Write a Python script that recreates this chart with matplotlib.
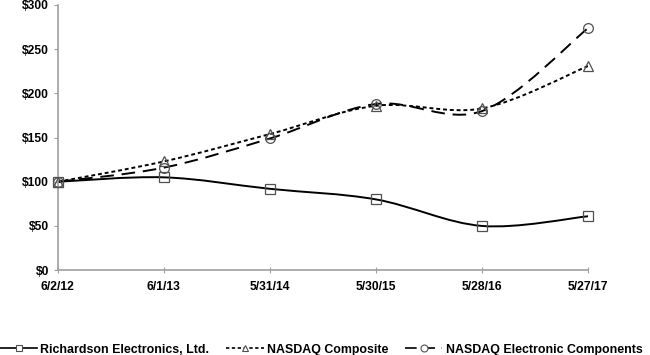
import matplotlib.pyplot as plt
import numpy as np
from matplotlib.path import Path
from matplotlib.patches import PathPatch
from matplotlib.lines import Line2D

plt.rcParams['font.family'] = ['Liberation Sans', 'DejaVu Sans']
plt.rcParams['font.weight'] = 'bold'

dates = ['6/2/12', '6/1/13', '5/31/14', '5/30/15', '5/28/16', '5/27/17']
richardson = [100, 105, 92, 80, 50, 61]
nasdaq_comp = [100, 123, 154, 186, 183, 231]
nasdaq_elec = [100, 116, 149, 188, 180, 274]
names = ['Richardson Electronics, Ltd.', 'NASDAQ Composite', 'NASDAQ Electronic Components']


def smooth_path(xs, ys):
    # excel-like smoothed line: catmull-rom segments as cubic beziers
    p = np.column_stack([xs, ys]).astype(float)
    ext = np.vstack([p[0], p, p[-1]])
    verts = [p[0]]
    codes = [Path.MOVETO]
    for i in range(len(p) - 1):
        p0, p1, p2, p3 = ext[i], ext[i + 1], ext[i + 2], ext[i + 3]
        c1 = p1 + (p2 - p0) / 6
        c2 = p2 - (p3 - p1) / 6
        verts += [c1, c2, p2]
        codes += [Path.CURVE4] * 3
    return Path(verts, codes)


fig = plt.figure(figsize=(6.5, 3.55), dpi=100)
ax = fig.add_axes([0.089, 0.239, 0.816, 0.747])

x = np.arange(len(dates))
styles = [
    dict(ls='-', marker='s'),
    dict(ls=(0, (2, 1.5)), marker='^'),
    dict(ls=(0, (7, 4)), marker='o'),
]
series = [richardson, nasdaq_comp, nasdaq_elec]
handles = []
for ys, st, name in zip(series, styles, names):
    patch = PathPatch(smooth_path(x, ys), fill=False, edgecolor='black',
                      lw=1.4, linestyle=st['ls'], transform=ax.transData, zorder=2)
    ax.add_patch(patch)
    ax.plot(x, ys, ls='none', marker=st['marker'], ms=7, mfc='none',
            mec='#505050', mew=0.9, zorder=3, clip_on=False)
    handles.append(Line2D([], [], color='black', lw=1.2, ls=st['ls'],
                          marker=st['marker'], ms=5, mfc='white', mec='#505050', mew=0.8))

ax.set_xlim(0, 5)
ax.set_ylim(0, 300)
ax.set_xticks(x)
ax.set_xticklabels(dates)
ax.set_yticks(range(0, 301, 50))
ax.set_yticklabels(['$%d' % v for v in range(0, 301, 50)])
for s in ['top', 'right']:
    ax.spines[s].set_visible(False)
for s in ['left', 'bottom']:
    ax.spines[s].set_color('#a0a0a0')
    ax.spines[s].set_linewidth(1.2)
ax.tick_params(axis='both', colors='#a0a0a0', labelcolor='black', labelsize=8.7, length=3)
ax.tick_params(axis='x', direction='inout', length=5, pad=5)

fig.legend(handles, names, loc='lower left', bbox_to_anchor=(0.0, -0.002), ncol=3,
           frameon=False, fontsize=8.9, handlelength=3.0, columnspacing=1.4,
           handletextpad=0.25, borderpad=0, borderaxespad=0)

fig.savefig('out.png', dpi=100)
